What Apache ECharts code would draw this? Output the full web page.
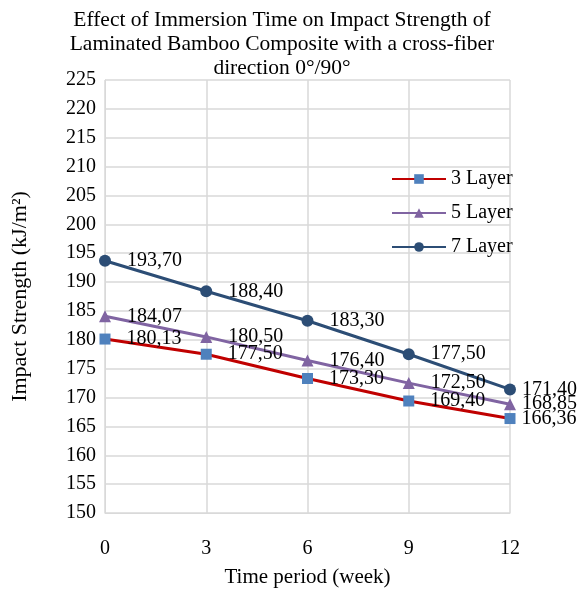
<!DOCTYPE html>
<html><head><meta charset="utf-8">
<script src="https://cdn.jsdelivr.net/npm/echarts@6/dist/echarts.min.js"></script>
<style>html,body{margin:0;padding:0;background:#fff}#c{width:582px;height:589px}</style>
</head><body><div id="c"></div>
<script>
const weeks = [0, 3, 6, 9, 12];
const layer3 = [180.13, 177.50, 173.30, 169.40, 166.36];
const layer5 = [184.07, 180.50, 176.40, 172.50, 168.85];
const layer7 = [193.70, 188.40, 183.30, 177.50, 171.40];
const seriesNames = ['3 Layer', '5 Layer', '7 Layer'];
const yTicks = {min: 150, max: 225, interval: 5};

const F = '"Liberation Serif","Times New Roman",serif';
const fmt = p => p.value[1].toFixed(2).replace('.', ',');
function mk(name, data, lineColor, markerColor, symbol, size) {
  return {
    name, type: 'line',
    data: weeks.map((w, i) => i === weeks.length - 1
      ? {value: [w, data[i]], label: {distance: 6}}
      : [w, data[i]]),
    symbol, symbolSize: size,
    lineStyle: {color: lineColor, width: 3},
    itemStyle: {color: markerColor},
    label: {show: true, position: 'right', distance: 16, formatter: fmt,
      fontFamily: F, fontSize: 20, color: '#000'}
  };
}
const chart = echarts.init(document.getElementById('c'));
chart.setOption({
  animation: false,
  title: {text: 'Effect of Immersion Time on Impact Strength of\nLaminated Bamboo Composite with a cross-fiber\ndirection 0°/90°',
    left: 277, textAlign: 'center', top: 3,
    textStyle: {fontFamily: F, fontSize: 21.5, fontWeight: 'normal', color: '#000', lineHeight: 24}},
  legend: {orient: 'vertical', left: 386, top: 164, itemGap: 14, itemWidth: 54, itemHeight: 12,
    textStyle: {fontFamily: F, fontSize: 20, color: '#000'}, data: seriesNames},
  grid: {left: 105, right: 72, top: 80, bottom: 76, containLabel: false, outerBoundsMode: 'none'},
  xAxis: {type: 'value', min: 0, max: 12, interval: 3,
    name: 'Time period (week)', nameLocation: 'middle', nameGap: 54,
    nameTextStyle: {fontFamily: F, fontSize: 21, color: '#000'},
    axisLine: {show: true, lineStyle: {color: '#d9d9d9'}}, axisTick: {show: false},
    axisLabel: {margin: 26, fontFamily: F, fontSize: 20, color: '#000'},
    splitLine: {show: true, lineStyle: {color: '#d9d9d9', width: 1.5}}},
  yAxis: {type: 'value', min: yTicks.min, max: yTicks.max, interval: yTicks.interval,
    name: 'Impact Strength (kJ/m²)', nameLocation: 'middle', nameGap: 74,
    nameTextStyle: {fontFamily: F, fontSize: 22, color: '#000'},
    axisLine: {show: true, lineStyle: {color: '#d9d9d9'}}, axisTick: {show: false},
    axisLabel: {margin: 9, fontFamily: F, fontSize: 20, color: '#000'},
    splitLine: {show: true, lineStyle: {color: '#d9d9d9', width: 1.5}}},
  series: [
    mk(seriesNames[0], layer3, '#C00000', '#4F81BD', 'rect', 11),
    mk(seriesNames[1], layer5, '#8064A2', '#8064A2', 'triangle', 12),
    mk(seriesNames[2], layer7, '#2C4D75', '#2C4D75', 'circle', 12)
  ]
});
</script></body></html>
